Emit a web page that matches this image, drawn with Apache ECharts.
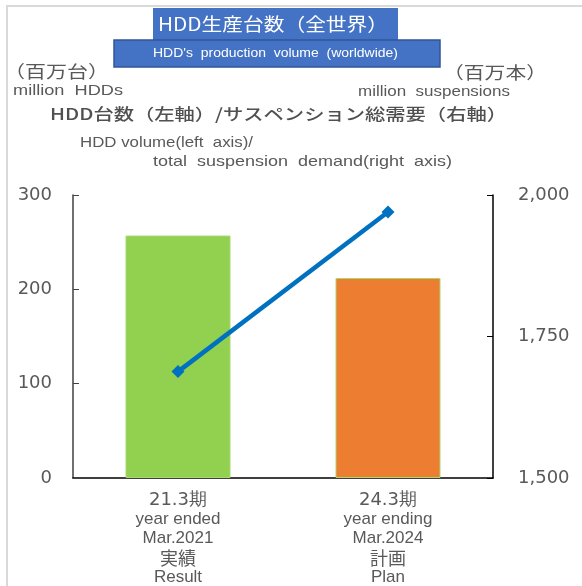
<!DOCTYPE html>
<html>
<head>
<meta charset="utf-8">
<style>
  html, body { margin: 0; padding: 0; background: #ffffff; }
  #chart { width: 582px; height: 586px; }
</style>
<script src="https://cdn.jsdelivr.net/npm/echarts@6/dist/echarts.min.js"></script>
</head>
<body>
<div id="chart"></div>
<script>
// Fiscal periods on the category axis, one line of text each
const periodJa = ['21.3期', '24.3期'];
const periodEn = ['year ended', 'year ending'];
const periodMonth = ['Mar.2021', 'Mar.2024'];
const statusJa = ['実績', '計画'];
const statusEn = ['Result', 'Plan'];

// HDD volume (million units, left axis) and suspension demand (million pcs, right axis)
const hddVolume = [257, 212];
const suspensionDemand = [1688, 1970];

// Axis ranges and ticks
const leftTicks = [0, 100, 200, 300];
const rightTicks = [1500, 1750, 2000];

const barColors = ['#92D050', '#ED7D31'];
const categories = periodJa.map((p, i) => String(i));

const TEXT = '#595959';
const JP = '"Noto Sans CJK JP", "DejaVu Sans", sans-serif';
const NUM = '"DejaVu Sans", sans-serif';
const LAT = '"Liberation Sans", Arial, sans-serif';

// Widen a heading horizontally so it spans [left, right]
const measureCtx = document.createElement('canvas').getContext('2d');
function stretchedText(text, font, left, right, cy, fill, z) {
  measureCtx.font = font;
  const w = measureCtx.measureText(text).width;
  return {
    type: 'text', x: left, y: cy, scaleX: (right - left) / w, z: z || 2,
    style: { text: text, font: font, fill: fill || TEXT, align: 'left', verticalAlign: 'middle' }
  };
}

const chart = echarts.init(document.getElementById('chart'), null, { renderer: 'canvas' });

chart.setOption({
  animation: false,
  backgroundColor: '#ffffff',
  grid: { left: 73, right: 89, top: 195, bottom: 106, containLabel: false },
  xAxis: {
    type: 'category',
    data: categories,
    axisLine: { show: true, lineStyle: { color: '#000000', width: 1.5 } },
    axisTick: { show: false },
    axisLabel: {
      interval: 0,
      margin: 12,
      formatter: (v) => {
        const i = Number(v);
        return '{p|' + periodJa[i] + '}\n{e|' + periodEn[i] + '}\n{e|' + periodMonth[i] +
               '}\n{j|' + statusJa[i] + '}\n{e|' + statusEn[i] + '}';
      },
      rich: {
        p: { fontFamily: NUM, fontSize: 18, color: TEXT, lineHeight: 20 },
        e: { fontFamily: LAT, fontSize: 17, color: TEXT, lineHeight: 19 },
        j: { fontFamily: JP, fontSize: 18, color: TEXT, lineHeight: 20 }
      }
    }
  },
  yAxis: [
    {
      type: 'value',
      min: leftTicks[0],
      max: leftTicks[leftTicks.length - 1],
      interval: 100,
      position: 'left',
      axisLine: { show: true, lineStyle: { color: '#404040', width: 1.5 } },
      axisTick: { show: true, inside: true, length: 6, lineStyle: { color: '#404040' } },
      splitLine: { show: false },
      axisLabel: { margin: 21, color: TEXT, fontFamily: NUM, fontSize: 18, align: 'right' }
    },
    {
      type: 'value',
      min: rightTicks[0],
      max: rightTicks[rightTicks.length - 1],
      interval: 250,
      position: 'right',
      axisLine: { show: true, lineStyle: { color: '#000000', width: 1.5 } },
      axisTick: { show: true, inside: true, length: 6, lineStyle: { color: '#000000' } },
      splitLine: { show: false },
      axisLabel: {
        margin: 25, color: TEXT, fontFamily: NUM, fontSize: 18,
        formatter: (v) => v.toLocaleString('en-US')
      }
    }
  ],
  series: [
    {
      name: 'HDD volume',
      type: 'bar',
      yAxisIndex: 0,
      barWidth: '50%',
      data: hddVolume.map((v, i) => ({
        value: v,
        itemStyle: { color: barColors[i], borderColor: '#A9D86E', borderWidth: 1 }
      }))
    },
    {
      name: 'Suspension demand',
      type: 'line',
      yAxisIndex: 1,
      data: suspensionDemand,
      symbol: 'diamond',
      symbolSize: 13,
      lineStyle: { color: '#0070C0', width: 4.5 },
      itemStyle: { color: '#0070C0' },
      z: 5
    }
  ],
  graphic: [
    // outer frame
    { type: 'rect', shape: { x: 7, y: 6, width: 600, height: 600 }, style: { fill: 'none', stroke: '#d9d9d9', lineWidth: 2 }, silent: true, z: 0 },
    // title boxes
    { type: 'rect', shape: { x: 153, y: 8, width: 245, height: 32 }, style: { fill: '#4472C4' }, z: 10 },
    stretchedText('HDD生産台数（全世界）', '18px ' + JP, 158, 388, 24, '#ffffff', 11),
    { type: 'rect', shape: { x: 114, y: 40, width: 326, height: 27 }, style: { fill: '#4472C4', stroke: '#2F5597', lineWidth: 1.5 }, z: 10 },
    stretchedText("HDD's  production  volume  (worldwide)", '12px ' + LAT, 153, 398, 54, '#ffffff', 11),
    // unit labels
    stretchedText('（百万台）', '17px ' + JP, 4, 109, 72),
    stretchedText('million  HDDs', '15px ' + LAT, 13, 123, 91),
    stretchedText('（百万本）', '17px ' + JP, 443, 547, 73),
    stretchedText('million  suspensions', '15px ' + LAT, 358, 510, 92),
    // chart subtitle
    stretchedText('HDD台数（左軸）/サスペンション総需要（右軸）', '500 16px ' + JP, 50, 507, 114, '#505050'),
    stretchedText('HDD volume(left  axis)/', '15px ' + LAT, 80, 253, 143),
    stretchedText('total  suspension  demand(right  axis)', '15px ' + LAT, 153, 452, 162)
  ]
});
</script>
</body>
</html>
